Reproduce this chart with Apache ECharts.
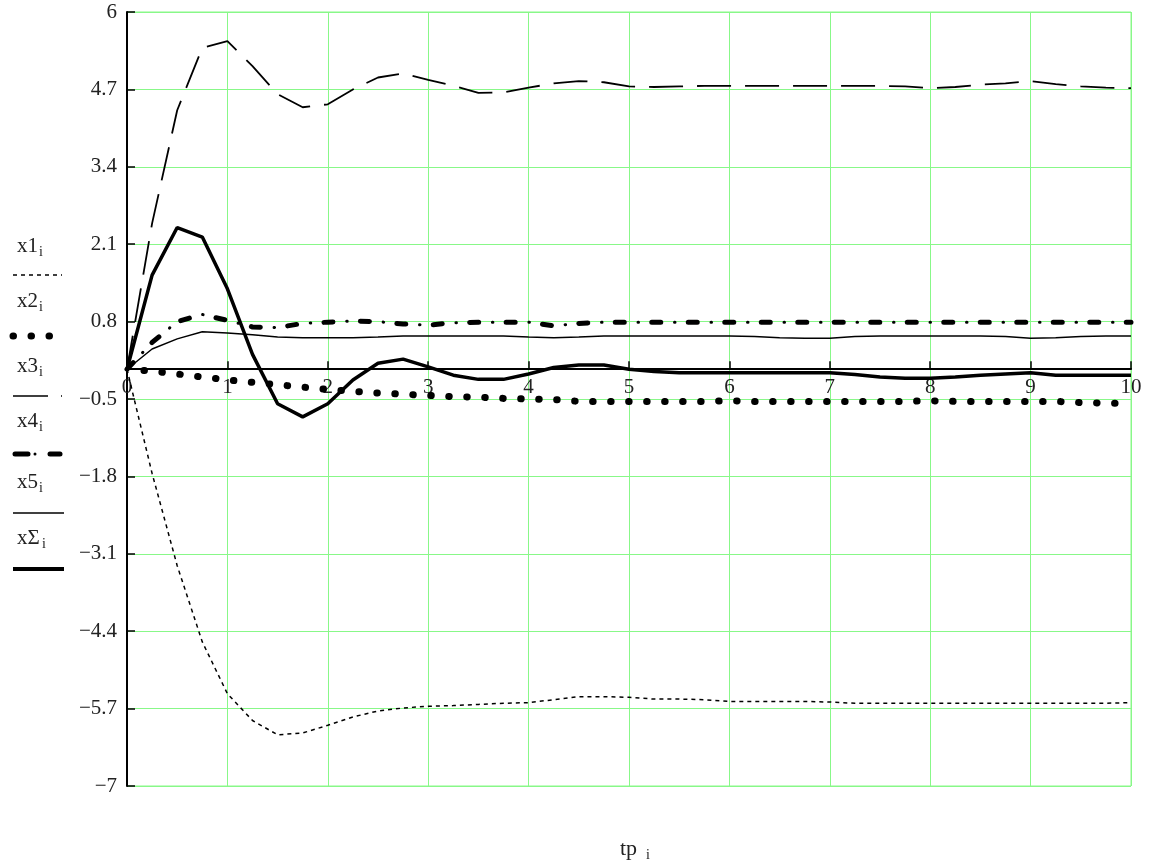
<!DOCTYPE html>
<html><head><meta charset="utf-8">
<script src="https://cdn.jsdelivr.net/npm/echarts@6/dist/echarts.min.js"></script>
<style>html,body{margin:0;padding:0;background:#fff}#c{width:1158px;height:863px}</style>
</head><body><div id="c"></div>
<script>
const tp = [0,0.25,0.5,0.75,1,1.25,1.5,1.75,2,2.25,2.5,2.75,3,3.25,3.5,3.75,4,4.25,4.5,4.75,5,5.25,5.5,5.75,6,6.25,6.5,6.75,7,7.25,7.5,7.75,8,8.25,8.5,8.75,9,9.25,9.5,9.75,10];
const x1 = [0,-1.75,-3.3,-4.58,-5.45,-5.9,-6.14,-6.11,-5.98,-5.84,-5.74,-5.69,-5.66,-5.65,-5.63,-5.61,-5.6,-5.55,-5.5,-5.5,-5.51,-5.54,-5.54,-5.55,-5.58,-5.58,-5.58,-5.58,-5.59,-5.61,-5.61,-5.61,-5.61,-5.61,-5.61,-5.61,-5.61,-5.61,-5.61,-5.61,-5.6];
const x2 = [0,-0.03,-0.08,-0.13,-0.18,-0.22,-0.26,-0.3,-0.34,-0.37,-0.4,-0.42,-0.44,-0.46,-0.47,-0.49,-0.5,-0.51,-0.54,-0.54,-0.54,-0.54,-0.54,-0.54,-0.53,-0.54,-0.54,-0.54,-0.54,-0.54,-0.54,-0.54,-0.53,-0.54,-0.54,-0.54,-0.54,-0.54,-0.56,-0.57,-0.57];
const x3 = [0,2.45,4.35,5.4,5.51,5.09,4.62,4.4,4.45,4.7,4.9,4.97,4.86,4.76,4.64,4.65,4.73,4.8,4.84,4.82,4.75,4.74,4.75,4.76,4.76,4.76,4.76,4.76,4.76,4.76,4.76,4.75,4.72,4.74,4.78,4.8,4.84,4.79,4.75,4.73,4.72];
const x4 = [0,0.45,0.8,0.92,0.82,0.71,0.7,0.77,0.79,0.81,0.8,0.76,0.74,0.78,0.79,0.79,0.79,0.73,0.77,0.79,0.79,0.79,0.79,0.79,0.79,0.79,0.79,0.79,0.79,0.79,0.79,0.79,0.79,0.79,0.79,0.79,0.79,0.79,0.79,0.79,0.79];
const x5 = [0,0.34,0.51,0.63,0.61,0.58,0.54,0.53,0.53,0.53,0.54,0.56,0.56,0.56,0.56,0.56,0.54,0.53,0.54,0.56,0.56,0.56,0.56,0.56,0.56,0.55,0.53,0.52,0.52,0.55,0.56,0.56,0.56,0.56,0.56,0.55,0.52,0.53,0.55,0.56,0.56];
const xS = [0,1.58,2.38,2.22,1.35,0.25,-0.58,-0.8,-0.58,-0.18,0.1,0.17,0.04,-0.1,-0.17,-0.17,-0.08,0.03,0.07,0.07,0,-0.04,-0.06,-0.06,-0.06,-0.06,-0.06,-0.06,-0.06,-0.09,-0.13,-0.15,-0.15,-0.13,-0.1,-0.08,-0.06,-0.1,-0.1,-0.1,-0.1];
const yTicks = [-7,-5.7,-4.4,-3.1,-1.8,-0.5,0.8,2.1,3.4,4.7,6];
const legendNames = ['x1','x2','x3','x4','x5','x\u03A3'];

const FONT = '"Liberation Serif", "Times New Roman", serif';
const GREEN = '#88f888';
const GRID_TOP = 12, GRID_BOTTOM = 77, H = 863;
const yMin = -7, yMax = 6;
const plotH = H - GRID_TOP - GRID_BOTTOM;
// distance from the bottom of the plot to the y = 0 level
const zeroFromBottom = plotH * (0 - yMin) / (yMax - yMin);

const pts = arr => tp.map((t,i)=>[t, arr[i]]);
const fmt = v => (v < 0 ? '\u2212' : '') + String(Math.abs(+v.toFixed(1)));

function lineSeries(data, ls, z) {
  return { type:'line', data: pts(data), symbol:'none', smooth:false, animation:false, z: z||2,
    lineStyle: Object.assign({color:'#000'}, ls) };
}

// legend graphics (text above a line sample, as in the original)
const legendText = [246, 301, 366, 421, 482, 538];
const legendLine = [275, 336, 396, 454, 513, 569];
const g = [];
legendNames.forEach((n,i)=>{
  g.push({type:'text', style:{text:n, x:17, y:legendText[i], font:'21px '+FONT, fill:'#222', verticalAlign:'middle'}});
  g.push({type:'text', style:{text:'i', x: i===5 ? 42 : 39, y:legendText[i]+6, font:'14px '+FONT, fill:'#222', verticalAlign:'middle'}});
});
g.push({type:'line', shape:{x1:13,y1:legendLine[0],x2:62,y2:legendLine[0]}, style:{stroke:'#000', lineWidth:1.5, lineDash:[4,4]}});
g.push({type:'line', shape:{x1:13,y1:legendLine[1],x2:50,y2:legendLine[1]}, style:{stroke:'#000', lineWidth:7, lineDash:[0.5,17.5], lineCap:'round'}});
g.push({type:'line', shape:{x1:13,y1:legendLine[2],x2:62,y2:legendLine[2]}, style:{stroke:'#000', lineWidth:1.5, lineDash:[35,13]}});
g.push({type:'line', shape:{x1:15,y1:legendLine[3],x2:28,y2:legendLine[3]}, style:{stroke:'#000', lineWidth:5, lineCap:'round'}});
g.push({type:'line', shape:{x1:50,y1:legendLine[3],x2:60,y2:legendLine[3]}, style:{stroke:'#000', lineWidth:5, lineCap:'round'}});
g.push({type:'circle', shape:{cx:35,cy:legendLine[3],r:1.5}, style:{fill:'#000'}});
g.push({type:'line', shape:{x1:13,y1:legendLine[4],x2:64,y2:legendLine[4]}, style:{stroke:'#000', lineWidth:1.5}});
g.push({type:'line', shape:{x1:13,y1:legendLine[5],x2:64,y2:legendLine[5]}, style:{stroke:'#000', lineWidth:4}});
// x axis title
g.push({type:'text', style:{text:'tp', x:620, y:849, font:'22px '+FONT, fill:'#222', verticalAlign:'middle'}});
g.push({type:'text', style:{text:'i', x:646, y:855, font:'14px '+FONT, fill:'#222', verticalAlign:'middle'}});

const chart = echarts.init(document.getElementById('c'), null, {renderer:'canvas'});
chart.setOption({
  animation:false,
  backgroundColor:'#fff',
  grid:{left:127, right:27, top:GRID_TOP, bottom:GRID_BOTTOM, show:true, borderColor:GREEN, borderWidth:1},
  xAxis:{type:'value', min:0, max:10, interval:1, position:'bottom', offset: -zeroFromBottom,
    axisLine:{show:true, onZero:false, lineStyle:{color:'#000', width:2}},
    axisTick:{show:true, inside:true, length:8, lineStyle:{color:'#000', width:1.5}},
    axisLabel:{margin:8, fontFamily:FONT, fontSize:21, color:'#222'},
    splitLine:{show:true, lineStyle:{color:GREEN, width:1}}},
  yAxis:{type:'value', min:yMin, max:yMax,
    axisLine:{show:true, onZero:false, lineStyle:{color:'#000', width:2}},
    axisTick:{show:true, inside:true, length:8, customValues:yTicks, lineStyle:{color:'#000', width:1.5}},
    axisLabel:{customValues:yTicks, formatter:fmt, margin:10, padding:[10,0,0,0], fontFamily:FONT, fontSize:21, color:'#222'},
    splitLine:{show:true, lineStyle:{color:GREEN, width:1}}},
  graphic: g,
  series: [
    lineSeries(x1, {width:1.5, type:[4,4]}),
    lineSeries(x2, {width:7, type:[0.5,17.5], cap:'round', dashOffset:1}),
    lineSeries(x3, {width:1.8, type:[34,14]}),
    lineSeries(x4, {width:5, type:[9,27.5], cap:'round'}),
    lineSeries(x4, {width:3, type:[0.5,36], cap:'round', dashOffset:13.75}),
    lineSeries(x5, {width:1.5}),
    lineSeries(xS, {width:3.5}, 3)
  ]
});
</script></body></html>
